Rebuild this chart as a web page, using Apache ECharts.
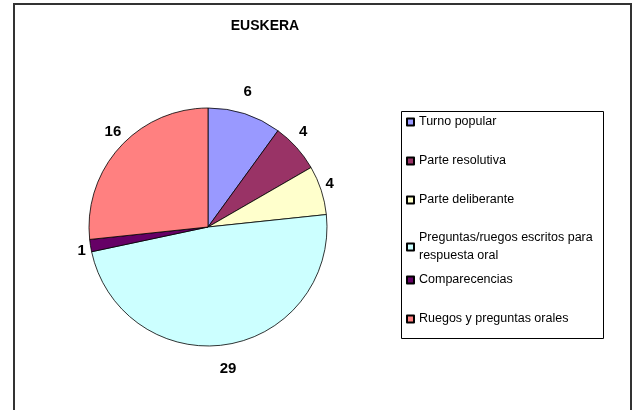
<!DOCTYPE html>
<html>
<head>
<meta charset="utf-8">
<script src="https://cdn.jsdelivr.net/npm/echarts@6/dist/echarts.min.js"></script>
<style>
  html, body { margin: 0; padding: 0; background: #fff; }
  #chart { width: 638px; height: 410px; }
</style>
</head>
<body>
<div id="chart"></div>
<script>
// datos del gráfico
var categories = ['Turno popular', 'Parte resolutiva', 'Parte deliberante',
    'Preguntas/ruegos escritos para respuesta oral', 'Comparecencias', 'Ruegos y preguntas orales'];
var values = [6, 4, 4, 29, 1, 16];
var colors = ['#9999FF', '#993366', '#FFFFCC', '#CCFFFF', '#660066', '#FF8080'];

var pieData = categories.map(function (name, i) {
    return { name: name, value: values[i], itemStyle: { color: colors[i] } };
});

var font = 'Arial, "Liberation Sans", sans-serif';
var legendText = { fontFamily: font, fontSize: 12.5, color: '#000', lineHeight: 14 };
var CX = 208, CY = 227;

var chart = echarts.init(document.getElementById('chart'));
chart.setOption({
    animation: false,
    title: {
        text: 'EUSKERA',
        left: 265,
        top: 19,
        padding: 0,
        textAlign: 'center',
        textStyle: { fontFamily: font, fontSize: 14, fontWeight: 'bold', color: '#000' }
    },
    graphic: [
        { type: 'rect', shape: { x: 14, y: 4, width: 617, height: 420 }, style: { fill: null, stroke: '#333', lineWidth: 2 }, z: 0 },
        { type: 'rect', shape: { x: 401.5, y: 111.5, width: 202, height: 227 }, style: { fill: null, stroke: '#000', lineWidth: 1 }, z: 0 }
    ],
    legend: [
        {
            orient: 'vertical', left: 406, top: 115, itemGap: 25, padding: 0,
            itemWidth: 7, itemHeight: 7, icon: 'rect',
            data: categories.slice(0, 3), textStyle: legendText
        },
        {
            orient: 'vertical', left: 406, top: 220, padding: 0,
            itemWidth: 7, itemHeight: 7, icon: 'rect',
            data: [categories[3]],
            formatter: function () { return 'Preguntas/ruegos escritos para\nrespuesta oral'; },
            textStyle: Object.assign({}, legendText, { lineHeight: 18, padding: [18, 0, 0, 0] })
        },
        {
            orient: 'vertical', left: 406, top: 273, itemGap: 25, padding: 0,
            itemWidth: 7, itemHeight: 7, icon: 'rect',
            data: categories.slice(4), textStyle: legendText
        }
    ],
    series: [
        {
            type: 'pie',
            center: [CX, CY],
            radius: 119,
            startAngle: 90,
            clockwise: true,
            label: {
                show: true, position: 'inside', formatter: '{c}',
                fontFamily: font, fontSize: 15, fontWeight: 'bold', color: '#000'
            },
            labelLine: { show: false },
            // etiquetas fuera del círculo, sobre una elipse como en Excel
            labelLayout: function (p) {
                var r = p.labelRect;
                var dx = r.x + r.width / 2 - CX, dy = r.y + r.height / 2 - CY;
                var d = Math.sqrt(dx * dx + dy * dy) || 1;
                return { x: CX + 128 * dx / d, y: CY + 1 + 143 * dy / d };
            },
            itemStyle: { borderColor: '#000', borderWidth: 0.8 },
            emphasis: { disabled: true },
            data: pieData
        }
    ]
});
</script>
</body>
</html>
